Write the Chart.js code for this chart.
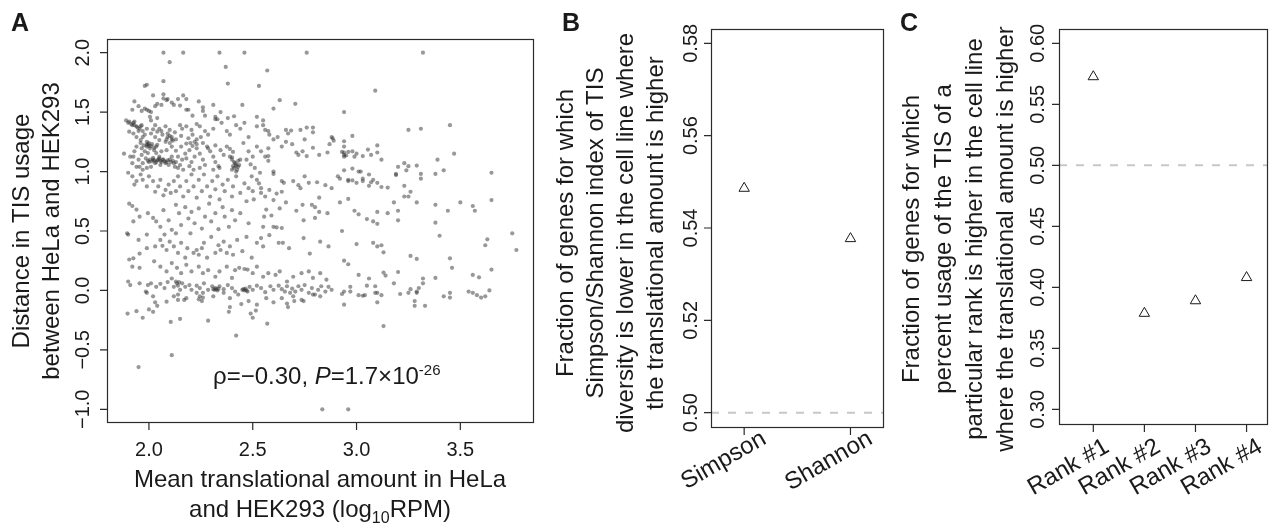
<!DOCTYPE html>
<html>
<head>
<meta charset="utf-8">
<script src="https://cdn.jsdelivr.net/npm/chart.js@4.4.1/dist/chart.umd.min.js"></script>
<style>
  html, body { margin: 0; padding: 0; background: #fff; }
  #wrap { position: relative; width: 1274px; height: 529px; }
  #wrap canvas { position: absolute; left: 0; top: 0; }
</style>
</head>
<body>
<div id="wrap">
  <canvas id="chart-a" width="1274" height="529"></canvas>
  <canvas id="chart-b" width="1274" height="529"></canvas>
  <canvas id="chart-c" width="1274" height="529"></canvas>
</div>
<script>
// Panel A: mean translational amount (log10 RPM) vs distance in TIS usage
const tisPoints = [
  // sparse top
  [2.07,2.0],[2.165,2.0],[2.34,2.0],[2.46,2.0],[2.76,2.0],[2.10,1.92],[2.37,1.88],[2.57,1.85],[2.07,1.76],[1.98,1.72],
  [1.99,1.73],[2.38,1.74],[2.53,1.72],[2.02,1.64],[2.07,1.65],[2.07,1.615],[2.09,1.61],[2.11,1.58],[2.14,1.61],[2.165,1.64],
  [2.18,1.61],[1.93,1.59],[1.965,1.51],[1.99,1.52],[2.0,1.51],[2.03,1.55],[2.06,1.56],[2.04,1.57],[2.085,1.60],[2.12,1.56],
  [2.15,1.555],[2.19,1.52],[2.24,1.59],[2.26,1.54],[2.26,1.51],[2.31,1.56],[2.45,1.56],[2.63,1.60],[2.60,1.53],[2.705,1.57],
  [2.52,1.46],[2.55,1.43],[2.18,1.52],[2.345,1.50],[2.38,1.45],[2.41,1.465],[2.32,1.44],[1.92,1.52],[1.98,1.53],[2.01,1.50],
  [1.95,1.55],[2.21,1.47],[2.27,1.47],
  // dense cluster, left
  [1.89,1.43],[1.90,1.41],[1.92,1.39],[1.925,1.41],[1.94,1.38],[1.95,1.34],[1.96,1.38],[1.97,1.34],[1.98,1.31],[1.99,1.36],
  [2.005,1.46],[2.01,1.43],[2.03,1.39],[2.04,1.45],[2.05,1.36],[2.06,1.34],[2.08,1.38],[2.09,1.32],[2.10,1.35],[2.11,1.29],
  [2.125,1.33],[2.15,1.39],[2.16,1.36],[2.18,1.38],[2.205,1.35],[2.23,1.40],[2.245,1.38],[2.27,1.34],[2.285,1.31],[2.31,1.36],
  [2.32,1.46],[2.33,1.44],[2.35,1.41],[2.375,1.34],[2.39,1.31],[2.42,1.39],[2.44,1.36],[1.925,1.32],[1.94,1.29],[1.96,1.265],
  [1.97,1.29],[1.99,1.25],[2.01,1.32],[2.03,1.29],[2.05,1.265],[2.065,1.31],[2.085,1.27],[2.08,1.25],[2.04,1.335],[2.13,1.27],
  [2.155,1.30],[2.19,1.28],[2.21,1.31],[2.23,1.27],[2.25,1.29],[1.965,1.39],[1.905,1.335],[2.02,1.355],
  [1.88,1.15],[1.91,1.125],[1.92,1.07],[1.93,1.17],[1.94,1.21],[1.96,1.24],[1.965,1.195],[1.975,1.22],[1.99,1.21],[1.995,1.23],
  [2.005,1.195],[2.01,1.215],[2.025,1.18],[2.035,1.21],[2.05,1.125],[2.06,1.08],[2.07,1.10],[2.08,1.07],[2.085,1.08],[2.095,1.055],
  [2.10,1.10],[2.11,1.125],[2.12,1.07],[2.125,1.04],[2.13,1.08],[2.14,1.125],[2.15,1.055],[2.16,1.10],[2.175,1.15],[2.18,1.11],
  [2.195,1.045],[2.205,1.08],[2.22,1.125],[2.23,1.195],[2.245,1.15],[2.26,1.10],[2.27,1.055],[2.28,1.21],[2.295,1.17],[2.31,1.125],
  [2.32,1.08],[2.335,1.045],[2.345,1.18],[2.36,1.14],[2.375,1.21],[2.39,1.125],[2.40,1.10],[2.415,1.07],[2.42,1.045],[2.425,1.015],
  [2.405,1.045],[2.40,1.015],[2.435,1.055],[2.42,1.0],[2.44,1.10],[1.925,1.125],[1.95,1.10],[1.97,1.07],[1.985,1.11],[2.0,1.08],
  [2.02,1.10],[2.03,1.07],[2.04,1.095],[2.055,1.055],[2.01,1.04],[1.99,1.03],[1.97,1.015],[1.955,1.04],[1.94,1.04],[1.965,1.14],
  [1.98,1.17],[1.995,1.155],[2.035,1.155],[2.06,1.17],[2.085,1.18],[2.11,1.21],[2.13,1.175],[2.155,1.21],[2.18,1.235],[2.195,1.18],
  [2.21,1.215],[2.26,1.24],[2.285,1.195],[2.32,1.22],[2.39,1.19],[2.405,1.165],[2.14,1.03],[2.165,1.015],[2.215,1.015],[2.245,1.03],
  [2.31,1.015],[2.34,1.03],
  [1.995,1.09],[2.005,1.10],[2.015,1.085],[2.025,1.095],[2.035,1.08],[2.045,1.10],[2.055,1.09],[2.065,1.10],[2.075,1.085],[2.09,1.095],
  [2.105,1.08],[2.115,1.09],[2.05,1.11],[2.02,1.115],[1.99,1.225],[2.0,1.215],[2.015,1.23],[2.025,1.20],[2.04,1.225],[2.0,1.24],
  [2.09,1.29],[2.10,1.30],[2.11,1.27],[2.10,1.24],[2.115,1.26],[1.905,1.42],[1.915,1.40],[1.93,1.39],[1.945,1.37],[1.955,1.36],
  [1.93,1.42],[2.22,1.25],[2.23,1.23],[2.20,1.24],[2.41,1.08],[2.42,1.06],[2.43,1.04],[2.41,1.03],[2.43,1.09],[2.40,1.12],
  // middle right of the cluster
  [2.66,1.35],[2.685,1.345],[2.73,1.35],[2.76,1.37],[2.79,1.37],[2.79,1.33],[2.67,1.32],[2.75,1.27],[2.885,1.28],[2.56,1.35],
  [2.58,1.31],[2.60,1.27],[2.62,1.29],[2.64,1.21],[2.66,1.25],[2.69,1.23],[2.71,1.16],[2.72,1.14],[2.74,1.17],[2.76,1.13],
  [2.79,1.20],[2.82,1.14],[2.86,1.16],[2.87,1.23],[2.575,1.13],[2.575,1.09],[2.60,1.0],[2.60,0.98],[2.64,0.92],[2.65,0.905],
  [2.695,0.92],[2.72,0.885],[2.73,0.86],[2.75,0.96],[2.77,0.905],[2.81,0.91],[2.82,0.78],[2.85,0.885],[2.88,0.86],[2.615,0.815],
  [2.64,0.83],[2.63,0.69],[2.66,0.74],[2.71,0.67],[2.74,0.72],[2.785,0.72],[2.80,0.70],[2.82,0.66],[2.86,0.65],[2.495,0.96],
  [2.52,0.93],[2.535,0.99],[2.54,0.86],[2.54,0.82],[2.555,0.62],[2.565,0.68],[2.505,0.765],[2.50,0.835],[2.47,0.75],
  [2.46,1.41],[2.48,1.29],[2.52,1.38],[2.55,1.39],[2.575,1.34],[2.48,1.17],[2.50,1.125],[2.52,1.21],[2.54,1.17],[2.56,1.125],
  [2.575,1.195],[2.455,1.24],[2.49,1.06],[2.51,1.03],[2.47,1.10],[2.46,0.90],[2.48,0.86],[2.53,0.90],[2.58,0.845],[2.56,0.79],
  [2.60,0.76],[2.59,0.63],
  // 0.6 to 1.0, left
  [1.90,0.99],[1.92,0.96],[1.93,0.89],[1.94,0.92],[1.96,0.975],[1.97,0.93],[1.99,0.875],[2.0,0.96],[2.02,0.92],[2.03,0.83],
  [2.045,0.875],[2.055,0.93],[2.07,0.80],[2.08,0.845],[2.095,0.89],[2.105,0.82],[2.12,0.92],[2.13,0.835],[2.14,0.96],[2.15,0.875],
  [2.165,0.79],[2.18,0.92],[2.19,0.835],[2.205,0.975],[2.215,0.875],[2.23,0.78],[2.24,0.93],[2.255,0.835],[2.265,0.975],[2.28,0.875],
  [2.295,0.79],[2.305,0.92],[2.32,0.85],[2.33,0.96],[2.34,0.765],[2.355,0.89],[2.365,0.835],[2.38,0.93],[2.40,0.79],[2.405,0.875],
  [2.42,0.96],[2.44,0.82],[1.905,0.73],[1.92,0.71],[1.94,0.68],[1.995,0.65],[2.02,0.61],[2.07,0.675],[2.13,0.72],[2.145,0.65],
  [2.175,0.70],[2.19,0.605],[2.205,0.66],[2.24,0.69],[2.27,0.62],[2.29,0.73],[2.32,0.65],[2.355,0.70],[2.365,0.62],[2.40,0.675],
  [2.44,0.65],[1.955,0.62],
  // 0.25 to 0.6
  [2.035,0.58],[2.055,0.535],[2.095,0.59],[2.11,0.51],[2.155,0.55],[2.22,0.565],[2.255,0.52],[2.30,0.58],[2.335,0.515],[2.385,0.535],
  [2.415,0.59],[2.48,0.565],[2.55,0.535],[2.60,0.535],[2.615,0.53],[2.64,0.525],[2.745,0.59],[2.80,0.61],[1.925,0.58],
  [1.895,0.48],[1.90,0.47],[1.95,0.425],[1.99,0.47],[2.055,0.425],[2.065,0.375],[2.075,0.47],[2.085,0.34],[2.10,0.41],[2.12,0.37],
  [2.13,0.48],[2.14,0.315],[2.155,0.40],[2.175,0.275],[2.185,0.355],[2.20,0.48],[2.215,0.315],[2.23,0.34],[2.24,0.30],[2.255,0.355],
  [2.265,0.40],[2.28,0.275],[2.30,0.45],[2.32,0.315],[2.335,0.38],[2.345,0.34],[2.36,0.41],[2.375,0.315],[2.39,0.37],[2.405,0.30],
  [2.425,0.425],[2.45,0.33],[2.47,0.45],[2.495,0.275],[2.52,0.40],[2.54,0.44],[2.55,0.37],[2.58,0.465],[2.625,0.40],[2.645,0.40],
  [2.675,0.355],[2.745,0.44],[2.775,0.31],[2.825,0.41],[2.865,0.37],[1.925,0.27],[1.955,0.31],[1.99,0.355],[2.03,0.37],
  // 0.1 to 0.25
  [1.905,0.26],[1.92,0.20],[1.955,0.19],[2.025,0.245],[2.055,0.20],[2.085,0.16],[2.11,0.23],[2.135,0.19],[2.155,0.145],[2.18,0.215],
  [2.205,0.16],[2.24,0.20],[2.26,0.145],[2.285,0.17],[2.32,0.115],[2.34,0.16],[2.375,0.20],[2.40,0.105],[2.415,0.17],[2.435,0.19],
  [2.46,0.18],[2.475,0.175],[2.50,0.145],[2.52,0.20],[2.55,0.115],[2.575,0.145],[2.61,0.13],[2.63,0.16],[2.665,0.075],[2.695,0.115],
  [2.735,0.145],[2.77,0.16],[2.79,0.105],[2.825,0.145],[2.855,0.09],
  // band around zero
  [1.90,0.075],[1.91,0.045],[1.955,0.06],[1.985,-0.01],[1.995,0.045],[2.01,0.06],[2.035,0.03],[2.055,0.055],[2.075,0.02],[2.09,0.07],
  [2.11,0.10],[2.12,0.03],[2.13,0.075],[2.14,0.04],[2.15,0.005],[2.16,0.06],[2.175,0.03],[2.195,0.045],[2.205,0.005],[2.23,0.04],
  [2.245,0.02],[2.265,0.06],[2.285,0.005],[2.305,0.035],[2.31,0.01],[2.32,0.02],[2.33,0.0],[2.34,0.035],[2.36,0.01],[2.38,0.045],
  [2.40,0.02],[2.415,-0.01],[2.455,0.01],[2.46,0.0],[2.475,-0.01],[2.485,0.03],[2.50,0.005],[2.52,0.04],[2.54,0.02],[2.56,-0.015],
  [2.585,0.035],[2.60,0.005],[2.625,0.04],[2.64,0.01],[2.655,-0.01],[2.665,0.035],[2.68,-0.02],[2.69,0.015],[2.705,-0.01],[2.72,0.035],
  [2.735,0.005],[2.75,0.045],[2.77,-0.02],[2.785,0.02],[2.80,-0.035],[2.815,0.005],[2.83,0.035],[2.85,-0.01],[2.865,0.03],[2.88,0.005],
  [1.99,-0.02],[2.02,-0.05],[2.12,-0.05],[2.14,-0.035],[2.18,-0.065],[2.23,-0.02],[2.245,-0.05],[2.26,-0.02],[2.31,-0.05],[2.36,-0.02],
  [2.39,-0.065],[2.43,-0.035],[2.565,-0.065],[2.64,-0.065],[2.695,-0.05],[2.735,-0.08],[2.79,-0.035],[2.825,-0.05],
  [2.315,0.005],[2.325,0.01],[2.45,0.005],[2.47,0.0],[2.465,0.015],[2.335,0.015],[2.135,0.06],[2.145,0.07],
  // below zero
  [1.897,-0.195],[1.94,-0.175],[1.97,-0.23],[2.0,-0.16],[2.02,-0.18],[2.04,-0.13],[2.105,-0.265],[2.15,-0.24],[2.11,-0.545],[1.95,-0.645],
  [2.285,-0.255],[2.42,-0.38],[2.57,-0.28],[2.67,-0.14],[2.39,-0.14],[2.385,-0.18],[2.49,-0.195],[2.50,-0.23],[2.515,-0.17],[2.52,-0.12],
  [2.445,-0.115],[2.48,-0.09],[2.60,-0.10],[2.70,-0.09],[2.745,-0.09],[2.14,-0.08],[2.17,-0.08],[2.24,-0.075],[2.26,-0.06],[2.255,-0.09],
  [2.03,-0.1],[2.085,-0.095],[2.665,-0.11],[2.835,-1.0],[2.96,-1.0],
  // high translational amount
  [3.32,2.0],[3.09,1.68],[2.94,1.50],[3.25,1.35],[3.31,1.36],[3.45,1.39],[3.47,1.15],[3.65,0.99],[3.65,0.76],[3.75,0.48],
  [3.77,0.34],[3.63,0.43],[3.62,0.38],[3.65,0.175],[3.64,0.0],[3.62,-0.05],[3.60,-0.06],[3.58,-0.04],[3.56,-0.02],[3.54,-0.01],
  [3.56,0.13],[3.59,0.11],[3.50,0.74],[3.56,0.71],[3.57,0.67],[3.46,0.19],[3.45,0.27],[3.45,-0.02],[3.45,-0.06],[3.42,-0.05],
  [3.44,0.67],[3.40,0.46],[3.38,0.57],[3.38,0.72],[3.38,0.105],[3.33,-0.13],[3.28,-0.09],[3.28,-0.13],[3.32,0.06],[3.32,0.10],
  [3.30,0.02],[3.29,-0.02],[3.29,-0.01],[3.26,0.01],[3.25,-0.02],[3.21,-0.03],[3.26,0.29],[3.29,0.265],[3.20,0.155],[3.18,0.06],
  [3.13,-0.30],[3.38,0.98],[3.42,1.01],[3.31,0.98],[3.31,0.94],[3.29,1.05],[3.25,1.045],[3.24,1.01],[3.23,1.07],[3.20,1.04],
  [3.29,0.74],[3.26,0.83],[3.25,0.79],[3.23,0.88],[3.23,0.79],[3.20,0.67],[3.18,0.74],[3.19,0.97],[3.19,0.98],[3.15,0.865],
  [3.12,0.87],[3.15,0.65],[3.10,0.66],[3.10,0.56],[3.13,0.32],[3.12,0.38],[3.10,0.37],[3.08,0.40],[3.12,-0.04],[3.10,-0.02],
  [3.10,-0.10],[3.09,-0.02],[3.09,0.035],[3.06,0.10],[3.05,0.04],[3.04,-0.04],[3.03,-0.045],[3.01,-0.04],[3.01,0.13],[3.06,0.88],
  [3.07,0.91],[3.06,0.975],[3.10,0.905],[3.08,0.93],[3.03,0.94],[3.00,0.905],[2.96,0.92],[2.98,0.925],[2.98,1.17],[2.96,1.165],
  [2.95,1.135],[2.94,1.16],[2.93,1.165],[2.94,1.14],[2.94,1.125],[3.00,1.15],[2.99,1.125],[3.03,1.13],[3.07,1.14],[3.10,1.16],
  [2.89,1.26],[2.88,1.29],[2.94,1.255],[2.94,1.21],[2.98,1.30],[2.93,0.50],[3.00,0.39],[2.94,0.25],[2.96,0.22],[2.94,-0.01],
  [2.93,-0.03],[2.94,-0.12],[2.97,0.03],[2.97,-0.01],[3.13,0.15],[3.14,0.125],[3.055,1.185],[3.12,1.10],[3.10,1.22],[2.98,1.025],
  [3.01,1.0],[3.02,1.0],[2.94,1.01],[2.92,0.94],[2.91,0.96],[2.96,0.93],[3.03,0.92],[2.92,0.74],[2.96,0.77],[2.99,0.67],
  [3.01,0.64],[3.05,0.60],[3.08,0.58],[3.20,0.59],[3.39,1.10]
];
const tickA_x = [2.0, 2.5, 3.0, 3.5];
const tickA_y = [-1.0, -0.5, 0.0, 0.5, 1.0, 1.5, 2.0];

// Panel B: diversity index fractions
const diversityLabels = ['Simpson', 'Shannon'];
const diversityValues = [0.5486, 0.5377];
const tickB_y = [0.50, 0.52, 0.54, 0.56, 0.58];

// Panel C: rank fractions
const rankLabels = ['Rank #1', 'Rank #2', 'Rank #3', 'Rank #4'];
const rankValues = [0.5726, 0.3787, 0.389, 0.408];
const tickC_y = [0.30, 0.35, 0.40, 0.45, 0.50, 0.55, 0.60];

const chanceLevel = 0.5;

const FONT = '"Liberation Sans", Arial, Helvetica, sans-serif';
const INK = '#1a1a1a';
const W = 1274, H = 529;

function fmt(v, d) {
  return v.toFixed(d).replace('-', '\u2212');
}

function drawRuns(ctx, runs, x, y, align) {
  let total = 0;
  runs.forEach((r) => { ctx.font = r.font; r.w = ctx.measureText(r.text).width; total += r.w; });
  let cx = align === 'center' ? x - total / 2 : x;
  ctx.textAlign = 'left';
  runs.forEach((r) => {
    ctx.font = r.font;
    ctx.fillText(r.text, cx, y + (r.dy || 0));
    cx += r.w;
  });
}

// R-style box, ticks and labels, drawn from the chart scales
function axesPlugin(cfg) {
  return {
    id: 'rAxes',
    afterDatasetsDraw(chart) {
      const { ctx, chartArea: a } = chart;
      const xs = chart.scales.x, ys = chart.scales.y;
      ctx.save();
      ctx.strokeStyle = '#2b2b2b';
      ctx.lineWidth = 1.2;
      ctx.strokeRect(a.left + 0.5, a.top + 0.5, a.right - a.left, a.bottom - a.top);
      ctx.beginPath();
      cfg.yTicks.forEach((v) => {
        const py = ys.getPixelForValue(v);
        ctx.moveTo(a.left + 0.5, py);
        ctx.lineTo(a.left - 7, py);
      });
      cfg.xTicks.forEach((v) => {
        const px = xs.getPixelForValue(v);
        ctx.moveTo(px, a.bottom + 0.5);
        ctx.lineTo(px, a.bottom + 8);
      });
      ctx.stroke();

      ctx.fillStyle = INK;
      ctx.font = `20px ${FONT}`;
      ctx.textAlign = 'center';
      ctx.textBaseline = 'alphabetic';
      cfg.yTicks.forEach((v) => {
        ctx.save();
        ctx.translate(cfg.yTickX, ys.getPixelForValue(v));
        ctx.rotate(-Math.PI / 2);
        ctx.fillText(fmt(v, cfg.yDigits), 0, 0);
        ctx.restore();
      });

      if (cfg.xAngle) {
        ctx.font = `24px ${FONT}`;
        ctx.textAlign = 'right';
        ctx.textBaseline = 'middle';
        cfg.xTicks.forEach((v, i) => {
          ctx.save();
          ctx.translate(xs.getPixelForValue(v) + cfg.xLabelDx, a.bottom + cfg.xLabelDy);
          ctx.rotate(-cfg.xAngle * Math.PI / 180);
          ctx.fillText(cfg.xText[i], 0, 0);
          ctx.restore();
        });
      } else {
        cfg.xTicks.forEach((v, i) => {
          ctx.fillText(cfg.xText[i], xs.getPixelForValue(v), cfg.xLabelY);
        });
      }

      // rotated y title, lines centered on cy
      ctx.font = `24px ${FONT}`;
      ctx.textAlign = 'center';
      ctx.textBaseline = 'alphabetic';
      cfg.yTitle.forEach((line, i) => {
        ctx.save();
        ctx.translate(cfg.yTitleX[i], cfg.yTitleCy);
        ctx.rotate(-Math.PI / 2);
        ctx.fillText(line, 0, 0);
        ctx.restore();
      });

      ctx.font = `bold 25px ${FONT}`;
      ctx.textAlign = 'left';
      ctx.fillText(cfg.letter, cfg.letterX, 31);
      ctx.restore();
    }
  };
}

const panelAExtras = {
  id: 'panelAExtras',
  afterDatasetsDraw(chart) {
    const { ctx } = chart;
    ctx.save();
    ctx.fillStyle = INK;
    ctx.textBaseline = 'alphabetic';
    const f = `24px ${FONT}`;
    drawRuns(ctx, [{ text: 'Mean translational amount in HeLa', font: f }], 320, 487, 'center');
    drawRuns(ctx, [
      { text: 'and HEK293 (log', font: f },
      { text: '10', font: `16px ${FONT}`, dy: 6 },
      { text: 'RPM)', font: f }
    ], 320, 517, 'center');
    drawRuns(ctx, [
      { text: '\u03c1=\u22120.30, ', font: f },
      { text: 'P', font: `italic 24px ${FONT}` },
      { text: '=1.7\u00d710', font: f },
      { text: '-26', font: `15px ${FONT}`, dy: -9 }
    ], 213, 384, 'left');
    ctx.restore();
  }
};

const common = {
  responsive: false,
  animation: false,
  devicePixelRatio: 1,
  events: [],
  plugins: { legend: { display: false }, tooltip: { enabled: false } }
};

function box(left, top, right, bottom) {
  return { padding: { left, top, right: W - right, bottom: H - bottom } };
}

new Chart(document.getElementById('chart-a'), {
  type: 'scatter',
  data: {
    datasets: [{
      data: tisPoints.map(([x, y]) => ({ x, y })),
      pointRadius: 2.1,
      pointBorderWidth: 0,
      pointBackgroundColor: 'rgba(50,50,50,0.5)'
    }]
  },
  options: {
    ...common,
    layout: box(107, 39, 533, 422),
    scales: {
      x: { type: 'linear', display: false, min: 1.798, max: 3.85 },
      y: { type: 'linear', display: false, min: -1.107, max: 2.115 }
    }
  },
  plugins: [axesPlugin({
    xTicks: tickA_x, xText: tickA_x.map((v) => v.toFixed(1)), xLabelY: 456,
    yTicks: tickA_y, yDigits: 1, yTickX: 89,
    yTitle: ['Distance in TIS usage', 'between HeLa and HEK293'], yTitleX: [29, 58.5], yTitleCy: 231,
    letter: 'A', letterX: 11
  }), panelAExtras]
});

function markerChart(id, labels, values, area, xRange, yRange, cfg) {
  new Chart(document.getElementById(id), {
    type: 'scatter',
    data: {
      datasets: [
        {
          data: values.map((v, i) => ({ x: i + 1, y: v })),
          pointStyle: 'triangle',
          pointRadius: 6,
          pointBorderWidth: 1,
          pointBorderColor: '#1a1a1a',
          pointBackgroundColor: 'rgba(0,0,0,0)'
        },
        {
          data: [{ x: xRange[0], y: chanceLevel }, { x: xRange[1], y: chanceLevel }],
          showLine: true,
          borderColor: '#c8c8c8',
          borderWidth: 2,
          borderDash: [8, 9],
          pointRadius: 0
        }
      ]
    },
    options: {
      ...common,
      layout: box(...area),
      scales: {
        x: { type: 'linear', display: false, min: xRange[0], max: xRange[1] },
        y: { type: 'linear', display: false, min: yRange[0], max: yRange[1] }
      }
    },
    plugins: [axesPlugin(Object.assign({
      xTicks: labels.map((_, i) => i + 1), xText: labels, xAngle: 30
    }, cfg))]
  });
}

markerChart('chart-b', diversityLabels, diversityValues, [711, 29, 883, 427], [0.688, 2.306], [0.4969, 0.5831], {
  xLabelDx: 20, xLabelDy: 10,
  yTicks: tickB_y, yDigits: 2, yTickX: 697,
  yTitle: ['Fraction of genes for which', 'Simpson/Shannon index of TIS',
    'diversity is lower in the cell line where', 'the translational amount is higher'],
  yTitleX: [573, 603, 633, 663], yTitleCy: 233,
  letter: 'B', letterX: 562
});

markerChart('chart-c', rankLabels, rankValues, [1059, 29, 1273, 424], [0.3285, 4.40], [0.288, 0.6117], {
  xLabelDx: 14, xLabelDy: 21,
  yTicks: tickC_y, yDigits: 2, yTickX: 1044,
  yTitle: ['Fraction of genes for which', 'percent usage of the TIS of a',
    'particular rank is higher in the cell line', 'where the translational amount is higher'],
  yTitleX: [919, 951, 982, 1013], yTitleCy: 239,
  letter: 'C', letterX: 900
});
</script>
</body>
</html>
